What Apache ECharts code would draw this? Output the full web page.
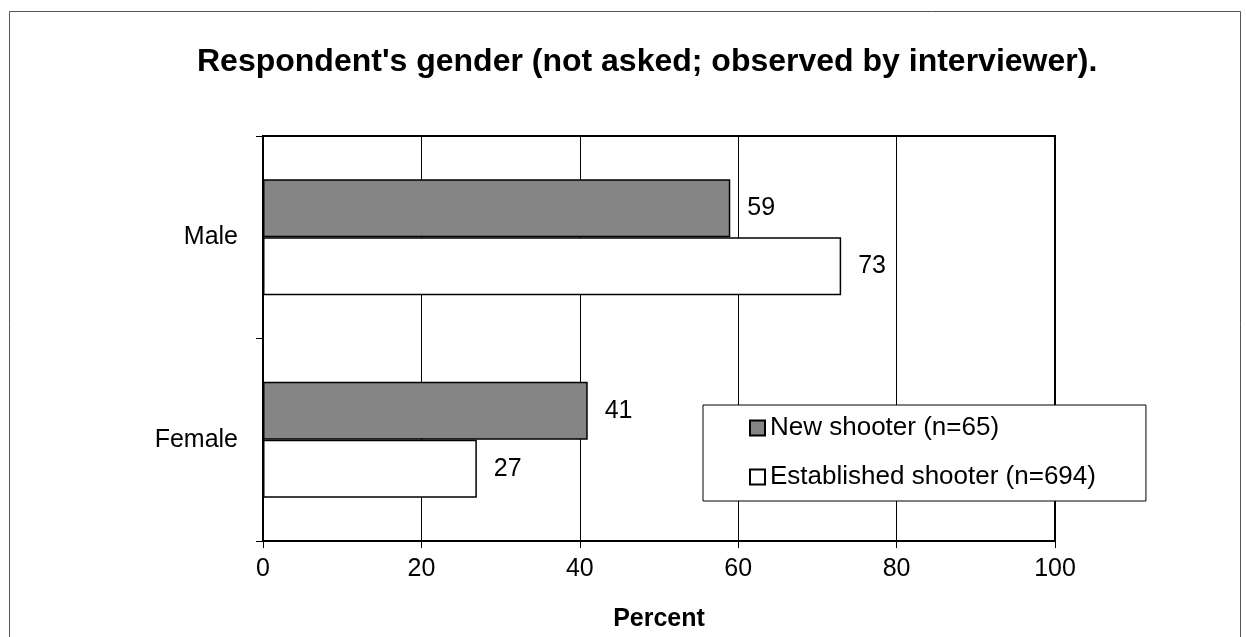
<!DOCTYPE html>
<html>
<head>
<meta charset="utf-8">
<script src="https://cdn.jsdelivr.net/npm/echarts@6/dist/echarts.min.js"></script>
<style>
html,body{margin:0;padding:0;background:#fff;}
#c{width:1246px;height:637px;}
</style>
</head>
<body>
<div id="c"></div>
<script>
const titleText = "Respondent's gender (not asked; observed by interviewer).";
const categories = ['Male', 'Female'];
const seriesNames = ['New shooter (n=65)', 'Established shooter (n=694)'];
const newShooter = [59, 41];
const establishedShooter = [73, 27];
const xTicks = [0, 20, 40, 60, 80, 100];
const axisTitle = 'Percent';

const FONT = '"Liberation Sans", Arial, sans-serif';
const chart = echarts.init(document.getElementById('c'), null, {renderer: 'canvas'});

const labelStyle = {
  show: true, position: 'right', distance: 17,
  color: '#000', fontFamily: FONT, fontSize: 25
};

chart.setOption({
  animation: false,
  backgroundColor: '#fff',
  title: {
    text: titleText,
    left: 192, top: 41,
    textStyle: {fontFamily: FONT, fontSize: 32, fontWeight: 'bold', color: '#000'}
  },
  graphic: [{
    type: 'rect', silent: true, z: -10,
    shape: {x: 9.5, y: 11.5, width: 1231, height: 700},
    style: {fill: 'none', stroke: '#555', lineWidth: 1}
  }],
  grid: {
    left: 263, right: 191, top: 136, bottom: 94,
    show: true, borderColor: '#000', borderWidth: 2, backgroundColor: 'transparent'
  },
  legend: {
    orient: 'vertical',
    left: 703, top: 405,
    padding: [8, 50, 9, 46],
    itemWidth: 15, itemHeight: 15, itemGap: 19, itemTextGap: 6,
    backgroundColor: '#fff',
    borderColor: '#000', borderWidth: 1,
    icon: 'rect',
    textStyle: {fontFamily: FONT, fontSize: 26, color: '#000', lineHeight: 30},
    data: seriesNames
  },
  xAxis: {
    type: 'value', min: xTicks[0], max: xTicks[xTicks.length - 1], interval: 20,
    name: axisTitle, nameLocation: 'middle', nameGap: 66,
    nameTextStyle: {fontFamily: FONT, fontSize: 25, fontWeight: 'bold', color: '#000'},
    axisLine: {show: true, lineStyle: {color: '#000', width: 2}},
    axisTick: {show: true, length: 7, inside: false, lineStyle: {color: '#000', width: 1}},
    axisLabel: {fontFamily: FONT, fontSize: 25, color: '#000', margin: 16},
    splitLine: {show: true, lineStyle: {color: '#000', width: 1}}
  },
  yAxis: {
    type: 'category', data: categories, inverse: true,
    axisLine: {show: true, lineStyle: {color: '#000', width: 2}},
    axisTick: {show: true, length: 7, inside: false, lineStyle: {color: '#000', width: 1}},
    axisLabel: {fontFamily: FONT, fontSize: 25, color: '#000', margin: 25},
    splitLine: {show: false}
  },
  series: [
    {
      name: seriesNames[0], type: 'bar', data: newShooter,
      barWidth: 58, barGap: '0%',
      itemStyle: {color: '#858585', borderColor: '#000', borderWidth: 1.5},
      label: labelStyle
    },
    {
      name: seriesNames[1], type: 'bar', data: establishedShooter,
      barWidth: 58, barGap: '0%',
      itemStyle: {color: '#ffffff', borderColor: '#000', borderWidth: 1.5},
      label: labelStyle
    }
  ]
});
</script>
</body>
</html>
